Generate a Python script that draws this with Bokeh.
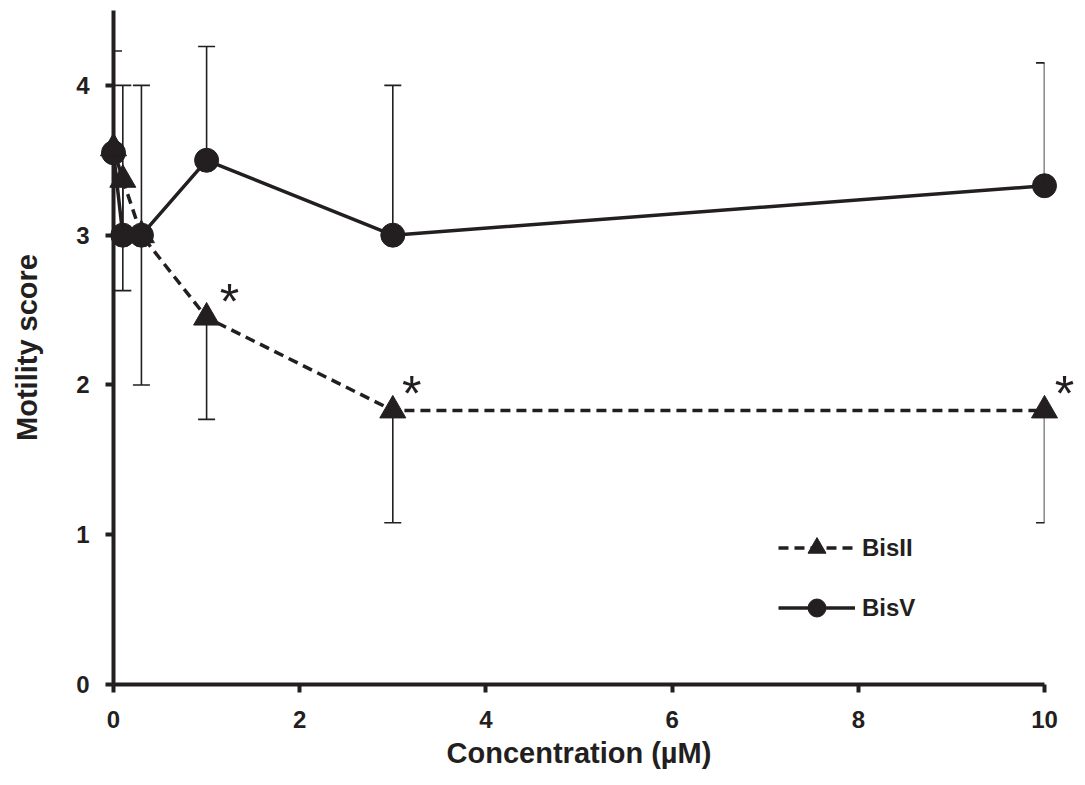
from bokeh.plotting import figure
from bokeh.models import (Range1d, Whisker, TeeHead, ColumnDataSource, Legend,
                          LegendItem, FixedTicker)
from bokeh.core.properties import value
from bokeh.embed import file_html
from bokeh.resources import INLINE

# ---- data ----
conc = [0, 0.1, 0.3, 1, 3, 10]
bisII = [3.58, 3.37, 3.0, 2.45, 1.83, 1.83]
bisII_err = [0.0, 0.74, 1.0, 0.68, 0.75, 0.75]
bisV = [3.55, 3.0, 3.0, 3.5, 3.0, 3.33]
bisV_err = [0.68, 1.0, 1.0, 0.76, 1.0, 0.82]
sig_conc = [1, 3, 10]
sig_val = [2.45, 1.83, 1.83]
sig_text = ["*", "*", "*"]
x_ticks = [0, 2, 4, 6, 8, 10]
y_ticks = [0, 1, 2, 3, 4]

# style: pixel offsets of the significance marks
star_dx = [23, 19, 20]

INK = "#231f20"
FONT = "Liberation Sans"

W, H = 1077, 777
p = figure(width=W, height=H, output_backend="svg", toolbar_location=None,
           x_range=Range1d(0, 10), y_range=Range1d(0, 4.5),
           min_border_left=113, min_border_top=10, min_border_right=W - 1044,
           min_border_bottom=H - 684)
p.outline_line_color = None
p.grid.visible = False
p.background_fill_color = "white"

for ax in (p.xaxis[0], p.yaxis[0]):
    ax.axis_line_width = 4
    ax.axis_line_color = INK
    ax.major_tick_line_width = 4
    ax.major_tick_line_color = INK
    ax.major_tick_out = 8
    ax.major_tick_in = 0
    ax.minor_tick_line_color = None
    ax.major_label_text_font = FONT
    ax.major_label_text_font_style = "bold"
    ax.major_label_text_font_size = "24px"
    ax.major_label_text_color = INK
    ax.axis_label_text_font = FONT
    ax.axis_label_text_font_style = "bold"
    ax.axis_label_text_font_size = "29px"
    ax.axis_label_text_color = INK

p.xaxis.ticker = FixedTicker(ticks=x_ticks)
p.yaxis.ticker = FixedTicker(ticks=y_ticks)
p.xaxis.axis_label = "Concentration (µM)"
p.yaxis.axis_label = "Motility score"
p.xaxis.major_label_standoff = 18
p.xaxis.axis_label_standoff = 6
p.yaxis.major_label_standoff = 16
p.yaxis.axis_label_standoff = 30

src = ColumnDataSource(data=dict(
    x=conc, b2=bisII, b2_lo=[v - e for v, e in zip(bisII, bisII_err)],
    b5=bisV, b5_hi=[v + e for v, e in zip(bisV, bisV_err)]))

# error bars
w2 = Whisker(source=src, base="x", upper="b2", lower="b2_lo", dimension="height",
             line_color=INK, line_width=1.6, upper_head=None,
             lower_head=TeeHead(size=17, line_color=INK, line_width=1.6), level="overlay")
w5 = Whisker(source=src, base="x", upper="b5_hi", lower="b5", dimension="height",
             line_color=INK, line_width=1.6, lower_head=None,
             upper_head=TeeHead(size=17, line_color=INK, line_width=1.6), level="overlay")

l5 = p.line("x", "b5", source=src, line_color=INK, line_width=3.5, level="overlay")
m5 = p.scatter("x", "b5", source=src, marker="circle", size=24, fill_color=INK,
               line_color=INK, level="overlay")
l2 = p.line("x", "b2", source=src, line_color=INK, line_width=3.5, line_dash="10 6",
            level="overlay")
m2 = p.scatter("x", "b2", source=src, marker="triangle", size=26, fill_color=INK,
               line_color=INK, level="overlay")
p.add_layout(w5)
p.add_layout(w2)

sig = ColumnDataSource(data=dict(x=sig_conc, y=sig_val, t=sig_text, dx=star_dx))
p.text(x="x", y="y", text="t", source=sig, x_offset="dx", y_offset=-16,
       text_align="center", text_baseline="middle", text_font=value(FONT),
       text_font_size="50px", text_color=INK, level="overlay")

legend = Legend(items=[LegendItem(label="BisII", renderers=[l2, m2]),
                       LegendItem(label="BisV", renderers=[l5, m5])],
                location=(665, 54), glyph_width=77, glyph_height=45, spacing=15,
                label_text_font=FONT, label_text_font_style="bold",
                label_text_font_size="24px", label_text_color=INK,
                border_line_color=None, background_fill_alpha=0, padding=0,
                margin=0, label_standoff=7)
p.add_layout(legend)

open("out.html", "w").write(file_html(p, INLINE))
